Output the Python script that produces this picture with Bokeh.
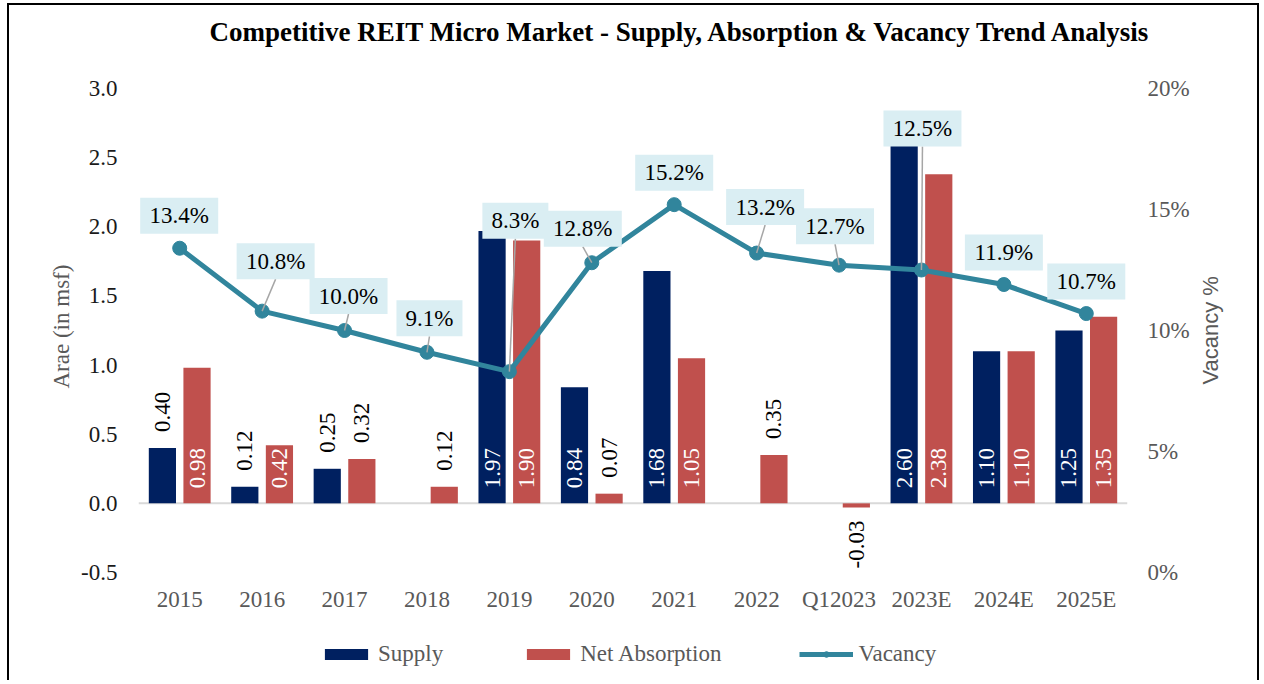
from bokeh.plotting import figure
from bokeh.models import (FactorRange, Range1d, LinearAxis, FixedTicker, NumeralTickFormatter,
                          ColumnDataSource, Span, Title, Legend, LegendItem)
from bokeh.transform import dodge
from bokeh.embed import file_html
from bokeh.resources import INLINE
from bokeh.core.properties import value
import math

# ---------------- data ----------------
categories = ["2015", "2016", "2017", "2018", "2019", "2020", "2021", "2022",
              "Q12023", "2023E", "2024E", "2025E"]
supply = [0.40, 0.12, 0.25, None, 1.97, 0.84, 1.68, None, None, 2.60, 1.10, 1.25]
net_absorption = [0.98, 0.42, 0.32, 0.12, 1.90, 0.07, 1.05, 0.35, -0.03, 2.38, 1.10, 1.35]
vacancy = [13.4, 10.8, 10.0, 9.1, 8.3, 12.8, 15.2, 13.2, 12.7, 12.5, 11.9, 10.7]
left_ticks = [-0.5, 0.0, 0.5, 1.0, 1.5, 2.0, 2.5, 3.0]
right_ticks = [0, 5, 10, 15, 20]
series_names = ["Supply", "Net Absorption", "Vacancy"]

# label-box placement offsets (screen px from each vacancy point)
box_dx = [-0.5, 13.5, 4, 2.5, 6, -9, 0, 8.5, -4, 1, 0, 0]
box_dy = [-32.5, -50, -34.5, -34, -151, -34, -32, -46, -39, -141.5, -32, -32]

# ---------------- style ----------------
SERIF = "Liberation Serif"
SANS = "Liberation Sans"
C_SUP = "#002060"
C_ABS = "#C0504D"
C_VAC = "#31859C"
GRAY = "#595959"
FS = "23px"

W, H = 1260, 680
ML, MT = 138, 88
MR = W - 1127
AX_BOTTOM = 572                      # pixel row of the lowest tick (-0.5 / 0%)
FW = W - ML - MR
PLOT_H = AX_BOTTOM - MT
PX_X = FW / len(categories)
PX_Y = PLOT_H / (left_ticks[-1] - left_ticks[0])
PX_V = PLOT_H / (right_ticks[-1] - right_ticks[0])
EXTRA = H - AX_BOTTOM                # frame continues below the axes to hold the legend

p = figure(width=W, height=H, x_range=FactorRange(*categories, range_padding=0),
           y_range=Range1d(left_ticks[0] - EXTRA / PX_Y, left_ticks[-1]),
           output_backend="svg", toolbar_location=None,
           min_border_left=ML, min_border_right=MR, min_border_top=MT, min_border_bottom=0)
p.extra_y_ranges = {"vac": Range1d(right_ticks[0] - EXTRA / PX_V, right_ticks[-1])}
p.outline_line_color = None
p.background_fill_color = None
p.border_fill_color = None
p.xgrid.visible = False
p.ygrid.visible = False
p.styles = {
    "background-image": "linear-gradient(#000,#000), linear-gradient(#000,#000), linear-gradient(#000,#000)",
    "background-size": "2px 100%, 2px 100%, 1252px 2px",
    "background-position": "7px 3px, 1257px 3px, 7px 3px",
    "background-repeat": "no-repeat",
}


def bare_axis(ax):
    ax.axis_line_color = None
    ax.major_tick_line_color = None
    ax.minor_tick_line_color = None
    ax.major_tick_out = 0
    ax.major_tick_in = 0
    ax.major_label_text_font = SERIF
    ax.major_label_text_font_size = FS


bare_axis(p.xaxis[0])
bare_axis(p.yaxis[0])
p.xaxis.fixed_location = left_ticks[0]
p.xaxis.major_label_text_color = GRAY
p.xaxis.major_label_standoff = 14

p.yaxis.ticker = FixedTicker(ticks=left_ticks)
p.yaxis.formatter = NumeralTickFormatter(format="0.0")
p.yaxis.major_label_text_color = "#1a1a1a"
p.yaxis.major_label_standoff = 21

# left axis title as a side title, starting at the bottom and reading upward
p.add_layout(Title(text="Arae (in msf)", text_font=SERIF, text_font_size=FS,
                   text_font_style="normal", text_color=GRAY,
                   align="left", offset=H - 388), "left")

rax = LinearAxis(y_range_name="vac", ticker=FixedTicker(ticks=right_ticks),
                 major_label_overrides={t: f"{t}%" for t in right_ticks})
bare_axis(rax)
rax.major_label_text_color = GRAY
rax.major_label_standoff = 20
rax.axis_label = "Vacancy %"
rax.axis_label_orientation = math.pi / 2
rax.axis_label_text_font = SANS
rax.axis_label_text_font_size = "22px"
rax.axis_label_text_font_style = "normal"
rax.axis_label_text_color = GRAY
rax.axis_label_standoff = 18
p.add_layout(rax, "right")

# zero line
p.add_layout(Span(location=0, dimension="width", line_color="#D9D9D9", line_width=2, level="underlay"))

# bars
nan = float("nan")
src = ColumnDataSource(dict(cat=categories,
                            sup=[nan if v is None else v for v in supply],
                            ab=net_absorption))
BW = 0.33
OFF = 0.21
r_sup = p.vbar(x=dodge("cat", -OFF, range=p.x_range), top="sup", bottom=0, width=BW,
               source=src, fill_color=C_SUP, line_color=None)
r_abs = p.vbar(x=dodge("cat", OFF, range=p.x_range), top="ab", bottom=0, width=BW,
               source=src, fill_color=C_ABS, line_color=None)

# vacancy line
xs = [i + 0.5 for i in range(len(categories))]
r_line = p.line(xs, vacancy, y_range_name="vac", line_color=C_VAC, line_width=5)
r_pts = p.scatter(xs, vacancy, y_range_name="vac", size=14, fill_color=C_VAC, line_color=C_VAC)

# leader lines + label boxes
bx = [x + dx / PX_X for x, dx in zip(xs, box_dx)]
by = [v - dy / PX_V for v, dy in zip(vacancy, box_dy)]
BOXH = 36
lx0, ly0, lx1, ly1 = [], [], [], []
for i in range(len(xs)):
    if abs(box_dy[i]) > 33:
        lx0.append(bx[i]); ly0.append(by[i] - (BOXH / 2) / PX_V)
        lx1.append(xs[i]); ly1.append(vacancy[i])
p.segment(lx0, ly0, lx1, ly1, y_range_name="vac", line_color="#A6A6A6", line_width=1.5)
vac_txt = [f"{v:.1f}%" for v in vacancy]
bw = [78 if len(t) == 5 else 66 for t in vac_txt]
p.rect(bx, by, width=bw, height=BOXH, width_units="screen", height_units="screen",
       y_range_name="vac", fill_color="#DAEEF3", line_color=None)
p.text(bx, by, text=vac_txt, y_range_name="vac", text_font=value(SERIF), text_font_size=FS,
       text_color="#000000", text_align="center", text_baseline="middle")

# bar value labels
lab_x, lab_y, lab_t, lab_c, lab_a = [], [], [], [], []
for i, c in enumerate(categories):
    for vals, off in [(supply, -OFF), (net_absorption, OFF)]:
        v = vals[i]
        if v is None:
            continue
        lab_x.append(xs[i] + off)
        lab_t.append(f"{v:.2f}")
        if v > 0.41:
            lab_y.append(15 / PX_Y); lab_c.append("#FFFFFF"); lab_a.append("left")
        elif v >= 0:
            lab_y.append(v + 16 / PX_Y); lab_c.append("#000000"); lab_a.append("left")
        else:
            lab_y.append(v - 13 / PX_Y); lab_c.append("#000000"); lab_a.append("right")
p.text(lab_x, lab_y, text=lab_t, angle=math.pi / 2, text_font=value(SERIF), text_font_size=FS,
       text_color=lab_c, text_align=lab_a, text_baseline="middle")

# title (spacer first so it sits next to the frame, then the real title above it)
p.add_layout(Title(text=" ", text_font_size="22px"), "above")
p.add_layout(Title(text="Competitive REIT Micro Market - Supply, Absorption & Vacancy Trend Analysis",
                   text_font=SERIF, text_font_size="27px", text_font_style="bold",
                   text_color="#000000", align="left", offset=71), "above")

# legend (inside the lower strip of the frame)
legend = Legend(items=[LegendItem(label=series_names[0], renderers=[r_sup]),
                       LegendItem(label=series_names[1], renderers=[r_abs]),
                       LegendItem(label=series_names[2], renderers=[r_line, r_pts])],
                orientation="horizontal", location=(319 - ML, H - 654 - 14),
                glyph_width=54, glyph_height=14, label_standoff=5, spacing=78,
                padding=0, margin=0, border_line_color=None, background_fill_alpha=0,
                label_height=28,
                label_text_font=SERIF, label_text_font_size=FS, label_text_color=GRAY)
p.add_layout(legend)

open("out.html", "w").write(file_html(p, INLINE))
